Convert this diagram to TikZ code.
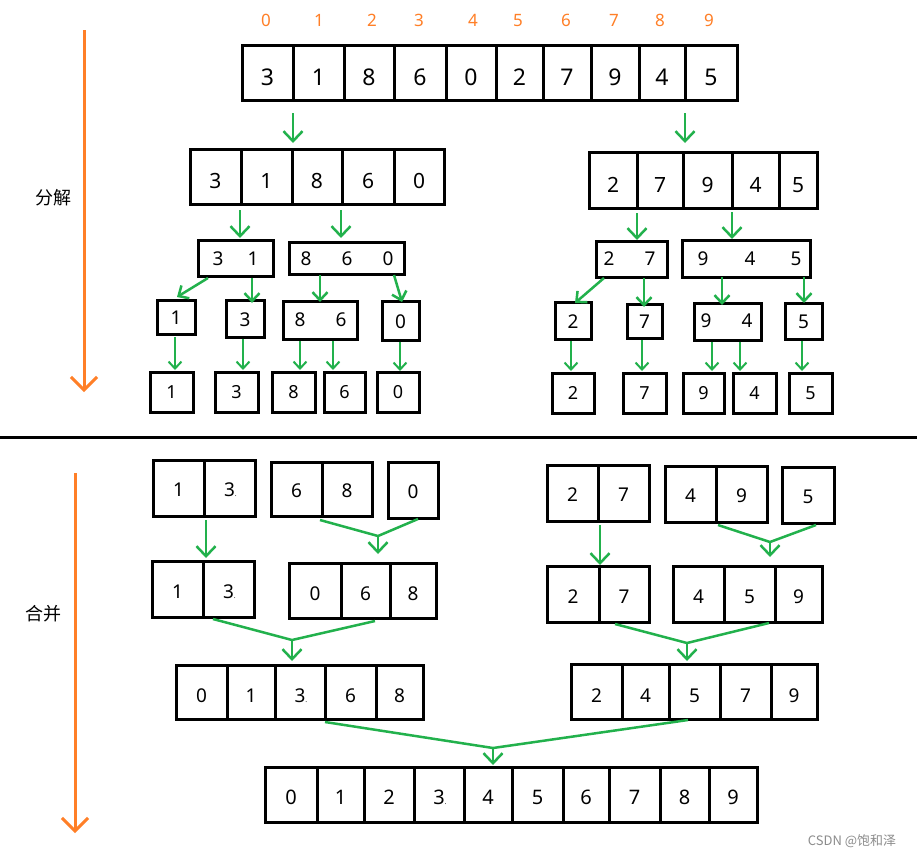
\documentclass[tikz,border=0pt]{standalone}
\usepackage{fontspec}
\setmainfont{Noto Sans}
\newfontfamily\cjk{Noto Sans CJK SC}
\usetikzlibrary{arrows.meta}
\definecolor{gr}{HTML}{22B14C}
\definecolor{og}{HTML}{FF7F27}
\newcommand\fs[1]{\fontsize{#1}{#1}\selectfont}
\newcommand\thr{3\makebox[0pt][l]{\fs{7}.}}
% [options]{name}{x0}{x1}{y0}{y1}{text}
\newcommand\cbox[7][]{\node[cell,minimum width={(#4-#3)*1pt},minimum height={(#6-#5)*1pt},#1] (#2) at ({(#3+#4)/2},{(#5+#6)/2}) {#7};}
\tikzset{
  cell/.style={draw=black,line width=3pt,inner sep=0pt,outer sep=0pt,line join=miter,
    text depth=0pt,text height=17.6pt,font=\fs{19}},
  rtop/.style={font=\fs{23},text height=25.4pt},
  rtwo/.style={font=\fs{21},text height=24pt},
  rfour/.style={font=\fs{19},text height=15.6pt},
  rfive/.style={font=\fs{18},text height=13pt},
  rmb/.style={font=\fs{19},text height=19.6pt},
  rmc/.style={font=\fs{19},text height=21.6pt},
  rmd/.style={font=\fs{20},text height=19.3pt},
  dig/.style={inner sep=0pt,text depth=0pt,text height=13.6pt,font=\fs{19}},
  idx/.style={inner sep=0pt,text depth=0pt,text height=12pt,font=\fs{17},text=og},
  garr/.style={draw=gr,line width=2.5pt,-{Straight Barb[length=10pt,width=19pt]}},
  gmid/.style={draw=gr,line width=2.5pt,-{Straight Barb[length=8pt,width=15pt]}},
  gsm/.style={draw=gr,line width=2pt,-{Straight Barb[length=7pt,width=13pt]}},
  gline/.style={draw=gr,line width=2.5pt},
  oarr/.style={draw=og,line width=3pt,-{Straight Barb[length=13pt,width=26pt]}},
  lab/.style={inner sep=0pt,font=\cjk\fs{18}},
}
\begin{document}
\begin{tikzpicture}[x=1pt,y=-1pt]
\useasboundingbox[fill=white] (0,0) rectangle (917,857);

% ---- left axis arrows and labels
\coordinate (o1s) at (84,30); \coordinate (o1e) at (84,392);
\coordinate (o2s) at (75,473); \coordinate (o2e) at (75,833);
\draw[oarr] (o1s) -- (o1e);
\draw[oarr] (o2s) -- (o2e);
\node[lab] (fenjie) at (53,198) {分解};
\node[lab] (hebing) at (43,614) {合并};

% separator
\coordinate (sepL) at (0,437); \coordinate (sepR) at (917,437);
\draw[line width=3pt] (sepL) -- (sepR);

% ---- indices
\foreach \x/\t [count=\i] in {266/0,319/1,372/2,419/3,473/4,518/5,566/6,614/7,660/8,709/9}
  {\node[idx] (i\i) at (\x,20) {\t};}

% ---- top array
\foreach \a/\b/\t [count=\i] in {242/293/3,293/344/1,344/394/8,394/446/6,446/496/0,496/543/2,543/591/7,591/639/9,639/685/4,685/737/5}
  {\cbox[rtop]{T\i}{\a}{\b}{45}{100}{\t}}

% ---- row 2
\foreach \a/\b/\t [count=\i] in {190/241/3,241/292/1,292/342/8,342/394/6,394/444/0}
  {\cbox[rtwo]{La\i}{\a}{\b}{149}{204}{\t}}
\foreach \a/\b/\t [count=\i] in {589/637/2,637/683/7,683/732/9,732/779/4,779/817/5}
  {\cbox[rtwo]{Ra\i}{\a}{\b}{152}{208}{\t}}

% ---- row 3
\cbox{Lb1}{198}{273}{240}{276}{}
\cbox{Lb2}{289}{404}{242}{274}{}
\cbox{Rb1}{596}{667}{241}{277}{}
\cbox{Rb2}{682}{810}{240}{277}{}
\foreach \x/\t [count=\i] in {218/3,253/1,306/8,347/6,388/0,609/2,650/7,703/9,750/4,796/5}
  {\node[dig] (b\i) at (\x,259) {\t};}

% ---- row 4
\cbox[rfour]{Lc1}{157}{195}{300}{334}{1}
\cbox[rfour]{Lc2}{226}{264}{300}{337}{3}
\cbox{Lc3}{283}{357}{301}{339}{}
\cbox[rfour]{Lc4}{382}{419}{301}{340}{0}
\cbox[rfour]{Rc1}{555}{591}{302}{339}{2}
\cbox[rfour]{Rc2}{627}{662}{304}{338}{7}
\cbox{Rc3}{694}{761}{303}{340}{}
\cbox[rfour]{Rc4}{785}{822}{303}{339}{5}
\node[dig] (c1) at (300,320) {8};
\node[dig] (c2) at (341,320) {6};
\node[dig] (c3) at (706,321) {9};
\node[dig] (c4) at (747,321) {4};

% ---- row 5
\foreach \a/\b/\t [count=\i] in {150/193/1,215/258/3,272/315/8,324/365/6,377/419/0}
  {\cbox[rfive]{Ld\i}{\a}{\b}{372}{412}{\t}}
\foreach \a/\b/\t [count=\i] in {552/594/2,623/666/7,683/724/9,733/776/4,789/832/5}
  {\cbox[rfive]{Rd\i}{\a}{\b}{373}{413}{\t}}

% ---- split arrows
\foreach \n/\a/\b/\c/\d in {s1/293/113/293/143, s2/685/113/685/143}
  {\coordinate (\n s) at (\a,\b); \coordinate (\n e) at (\c,\d); \draw[garr] (\n s) -- (\n e);}
\foreach \n/\a/\b/\c/\d in {s3/240/210/240/238, s4/341/210/341/238, s5/637/213/637/240, s6/732/212/732/239}
  {\coordinate (\n s) at (\a,\b); \coordinate (\n e) at (\c,\d); \draw[garr] (\n s) -- (\n e);}
\foreach \n/\a/\b/\c/\d in {s7/208/278/177/297, s8/252/278/252/303, s9/320/275/320/302, s10/394/275/402/302,
   s11/604/278/575/303, s12/644/278/644/307, s13/722/277/722/305, s14/804/277/804/303}
  {\coordinate (\n s) at (\a,\b); \coordinate (\n e) at (\c,\d); \draw[gmid] (\n s) -- (\n e);}
\foreach \n/\a/\b/\c/\d in {s15/175/337/175/370, s16/243/339/243/370, s17/300/341/300/370, s18/333/341/333/370, s19/400/342/400/371,
   s20/571/341/571/371, s21/642/340/642/371, s22/712/342/712/371, s23/740/342/740/371, s24/802/341/802/371}
  {\coordinate (\n s) at (\a,\b); \coordinate (\n e) at (\c,\d); \draw[gsm] (\n s) -- (\n e);}

% ---- merge row A
\cbox{MA1}{153}{204}{460}{516}{1}
\cbox{MA2}{204}{255}{460}{516}{\thr}
\cbox{MA3}{271}{322}{462}{516}{6}
\cbox{MA4}{322}{372}{462}{516}{8}
\cbox{MA5}{388}{438}{462}{518}{0}
\cbox{NA1}{547}{598}{465}{521}{2}
\cbox{NA2}{598}{649}{465}{521}{7}
\cbox{NA3}{665}{716}{466}{522}{4}
\cbox{NA4}{716}{767}{466}{522}{9}
\cbox{NA5}{782}{834}{467}{523}{5}

% ---- merge row B
\cbox[rmb]{MB1}{152}{203}{561}{617}{1}
\cbox[rmb]{MB2}{203}{254}{561}{617}{\thr}
\cbox[rmb]{MB3}{289}{341}{563}{618}{0}
\cbox[rmb]{MB4}{341}{390}{563}{618}{6}
\cbox[rmb]{MB5}{390}{436}{563}{618}{8}
\cbox[rmb]{NB1}{547}{599}{566}{622}{2}
\cbox[rmb]{NB2}{599}{649}{566}{622}{7}
\cbox[rmb]{NB3}{673}{724}{566}{622}{4}
\cbox[rmb]{NB4}{724}{775}{566}{622}{5}
\cbox[rmb]{NB5}{775}{822}{566}{622}{9}

% ---- merge row C
\foreach \a/\b/\t [count=\i] in {176/227/0,227/275/1,275/325/\thr,325/376/6,376/423/8}
  {\cbox[rmc]{MC\i}{\a}{\b}{665}{719}{\t}}
\foreach \a/\b/\t [count=\i] in {571/622/2,622/669/4,669/720/5,720/771/7,771/817/9}
  {\cbox[rmc]{NC\i}{\a}{\b}{664}{719}{\t}}

% ---- final row D
\foreach \a/\b/\t [count=\i] in {265/317/0,317/364/1,364/414/2,414/464/\thr,464/512/4,512/563/5,563/609/6,609/660/7,660/709/8,709/757/9}
  {\cbox[rmd]{D\i}{\a}{\b}{767}{822}{\t}}

% ---- merge arrows
\foreach \n/\a/\b/\c/\d in {m1/206/520/206/558, m2/600/525/600/565}
  {\coordinate (\n s) at (\a,\b); \coordinate (\n e) at (\c,\d); \draw[garr] (\n s) -- (\n e);}
% joins: name / left start / right start / join / end
\foreach \n/\ax/\ay/\bx/\by/\jx/\jy/\ey in {
    j1/320/520/418/519/378/536/554,
    j2/718/525/816/525/770/542/557,
    j3/213/619/375/621/292/640/661,
    j4/615/624/769/623/687/643/661,
    j5/325/722/688/720/493/748/765}
  {\coordinate (\n a) at (\ax,\ay); \coordinate (\n b) at (\bx,\by);
   \coordinate (\n j) at (\jx,\jy); \coordinate (\n e) at (\jx,\ey);
   \draw[gline] (\n a) -- (\n j) -- (\n b);
   \draw[garr] (\n j) -- (\n e);}

% watermark
\node[inner sep=0pt,text=black!45,font=\cjk\fs{13}] (wm) at (852,841) {CSDN @饱和泽};
\end{tikzpicture}
\end{document}
